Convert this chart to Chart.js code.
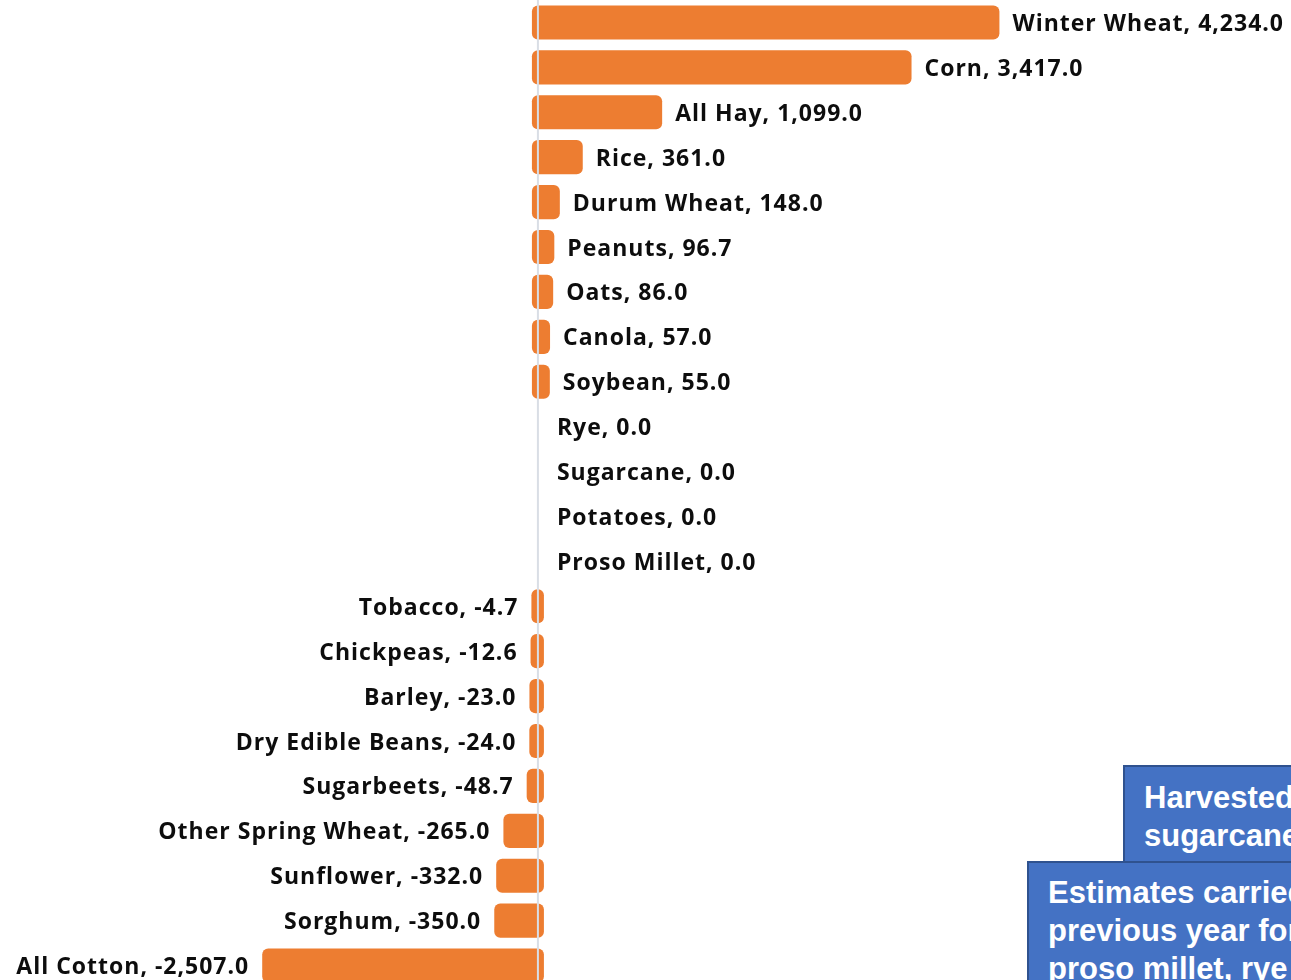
<!DOCTYPE html>
<html>
<head>
<meta charset="utf-8">
<script src="https://cdn.jsdelivr.net/npm/chart.js@4.4.1/dist/chart.umd.min.js"></script>
<style>
  html, body { margin: 0; padding: 0; background: #fff; overflow: hidden; }
  #wrap { position: absolute; left: 0; top: 0; width: 1291px; height: 988px; }
  .note {
    position: absolute; box-sizing: border-box;
    background: #4472C4; border: 2px solid #2F528F; color: #fff;
    font: bold 31px "Liberation Sans", Arial, sans-serif; line-height: 38px;
    white-space: nowrap;
  }
</style>
</head>
<body>
<div id="wrap"><canvas id="chart"></canvas></div>
<div class="note" style="left:1123px; top:765px; width:420px; height:110px; padding:12px 0 0 19px;">Harvested acres for<br>sugarcane not estimated</div>
<div class="note" style="left:1027px; top:861px; width:520px; height:160px; padding:11px 0 0 19px;">Estimates carried forward from<br>previous year for potatoes,<br>proso millet, rye and sugarcane</div>
<script>
// crop area change, top to bottom
const crops = [
  'Winter Wheat', 'Corn', 'All Hay', 'Rice', 'Durum Wheat', 'Peanuts', 'Oats',
  'Canola', 'Soybean', 'Rye', 'Sugarcane', 'Potatoes', 'Proso Millet', 'Tobacco',
  'Chickpeas', 'Barley', 'Dry Edible Beans', 'Sugarbeets', 'Other Spring Wheat',
  'Sunflower', 'Sorghum', 'All Cotton'
];
const changes = [
  4234.0, 3417.0, 1099.0, 361.0, 148.0, 96.7, 86.0,
  57.0, 55.0, 0.0, 0.0, 0.0, 0.0, -4.7,
  -12.6, -23.0, -24.0, -48.7, -265.0,
  -332.0, -350.0, -2507.0
];
const xRange = [-5000, 7000];

const BAR_COLOR = '#ED7D31';
const ZERO_LINE = '#D9DEE5';
const BAR_CAP = 6;   // rounded caps stick out past the value
const LABEL_FONT = 'bold 23px "Open Sans", Lato, sans-serif';

const fmt = v => v.toLocaleString('en-US', { minimumFractionDigits: 1, maximumFractionDigits: 1 });

// bars drawn as capsules from the library's own element geometry
const roundBars = {
  id: 'roundBars',
  beforeDatasetDraw(chart, args) {
    const ctx = chart.ctx;
    ctx.save();
    ctx.fillStyle = BAR_COLOR;
    args.meta.data.forEach((bar, i) => {
      if (changes[i] === 0) return;
      const { x, y, base, height } = bar.getProps(['x', 'y', 'base', 'height']);
      const left = Math.min(x, base) - BAR_CAP;
      const right = Math.max(x, base) + BAR_CAP;
      ctx.beginPath();
      ctx.roundRect(left, y - height / 2, right - left, height, BAR_CAP);
      ctx.fill();
    });
    ctx.restore();
    return false;
  },
  afterDatasetsDraw(chart) {
    const ctx = chart.ctx;
    const area = chart.chartArea;
    const x0 = chart.scales.x.getPixelForValue(0);

    // zero line sits on top of the bars
    ctx.save();
    ctx.strokeStyle = ZERO_LINE;
    ctx.lineWidth = 2;
    ctx.beginPath();
    ctx.moveTo(x0, area.top);
    ctx.lineTo(x0, area.bottom);
    ctx.stroke();

    // "Name, value" labels
    ctx.font = LABEL_FONT;
    ctx.letterSpacing = '1px';
    ctx.fillStyle = '#0d0d0d';
    ctx.textBaseline = 'middle';
    chart.getDatasetMeta(0).data.forEach((bar, i) => {
      const v = changes[i];
      const txt = crops[i] + ', ' + fmt(v);
      if (v >= 0) {
        ctx.textAlign = 'left';
        ctx.fillText(txt, bar.x + BAR_CAP + 13, bar.y + 2);
      } else {
        ctx.textAlign = 'right';
        ctx.fillText(txt, bar.x - BAR_CAP - 13, bar.y + 2);
      }
    });
    ctx.restore();
  }
};

new Chart(document.getElementById('chart'), {
  type: 'bar',
  data: {
    labels: crops,
    datasets: [{
      data: changes,
      backgroundColor: BAR_COLOR,
      categoryPercentage: 1,
      barPercentage: 0.76
    }]
  },
  options: {
    indexAxis: 'y',
    responsive: true,
    maintainAspectRatio: false,
    animation: false,
    layout: { padding: 0 },
    plugins: {
      legend: { display: false },
      tooltip: { enabled: false }
    },
    scales: {
      x: { display: false, min: xRange[0], max: xRange[1] },
      y: { display: false }
    }
  },
  plugins: [roundBars]
});
</script>
</body>
</html>
